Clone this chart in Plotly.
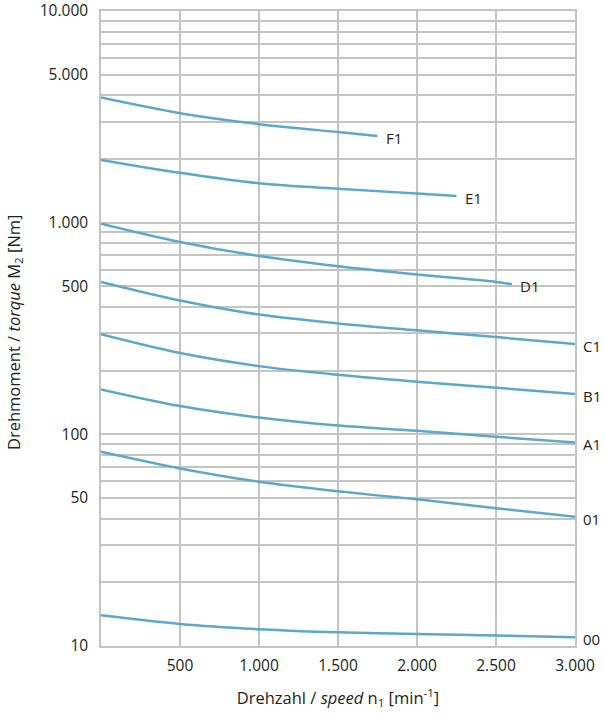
import math
import plotly.graph_objects as go

# Data
speed_F1 = [0, 500, 1000, 1500, 1750]
torque_F1 = [3900, 3290, 2920, 2680, 2570]

speed_E1 = [0, 500, 1000, 1500, 2000, 2250]
torque_E1 = [1980, 1720, 1535, 1445, 1375, 1337]

speed_D1 = [0, 500, 1000, 1500, 2000, 2500, 2600]
torque_D1 = [990, 811, 696, 623, 569, 525, 512]

speed_full = [0, 500, 1000, 1500, 2000, 2500, 3000]
torque_C1 = [525, 429, 368, 334, 310, 288, 267]
torque_B1 = [297, 242, 210, 191, 177, 166, 155]
torque_A1 = [163, 136, 120, 110, 104, 97.3, 91.6]
torque_01 = [82.7, 69, 59.7, 53.8, 49.3, 44.8, 40.8]
torque_00 = [13.96, 12.7, 12.0, 11.6, 11.4, 11.2, 11.0]

series = [
    ("F1", speed_F1, torque_F1),
    ("E1", speed_E1, torque_E1),
    ("D1", speed_D1, torque_D1),
    ("C1", speed_full, torque_C1),
    ("B1", speed_full, torque_B1),
    ("A1", speed_full, torque_A1),
    ("01", speed_full, torque_01),
    ("00", speed_full, torque_00),
]

x_ticks = [500, 1000, 1500, 2000, 2500, 3000]
x_labels = ["500", "1.000", "1.500", "2.000", "2.500", "3.000"]

y_grid = [m * 10 ** e for e in (1, 2, 3) for m in range(1, 10)] + [10000]
y_label_map = {10: "10", 50: "50", 100: "100", 500: "500",
               1000: "1.000", 5000: "5.000", 10000: "10.000"}
y_labels = [y_label_map.get(v, "") for v in y_grid]

x_title = "Drehzahl / <i>speed</i> n<sub>1</sub> [min<sup>-1</sup>]"
y_title = "Drehmoment / <i>torque</i> M<sub>2</sub> [Nm]"

line_color = "#5ba8c8"
grid_color = "#c4c4c4"
text_color = "#231f20"
font_family = "Open Sans, Noto Sans, sans-serif"
tick_fs = 15.5
title_fs = 16.5
label_fs = 15

fig = go.Figure()
for name, xs, ys in series:
    fig.add_trace(go.Scatter(
        x=xs, y=ys, mode="lines", name=name,
        line=dict(color=line_color, width=2.5, shape="spline", smoothing=0.9),
        showlegend=False, hoverinfo="skip",
    ))
    fig.add_annotation(
        x=xs[-1], y=math.log10(ys[-1]), xref="x", yref="y",
        text=name, showarrow=False, xanchor="left", yanchor="middle",
        xshift=6, yshift=-2,
        font=dict(family=font_family, size=label_fs, color=text_color),
    )

# y-axis title placed as rotated annotation for exact position
fig.add_annotation(
    x=-0.1835, y=0.4945, xref="paper", yref="paper",
    text=y_title, textangle=-90, showarrow=False,
    xanchor="center", yanchor="middle",
    font=dict(family=font_family, size=title_fs, color=text_color),
)

fig.update_layout(
    width=605, height=718,
    margin=dict(l=101, r=30, t=11, b=72),
    paper_bgcolor="white", plot_bgcolor="white",
    font=dict(family=font_family, size=tick_fs, color=text_color),
)

fig.update_xaxes(
    range=[0, 3000], tickvals=x_ticks, ticktext=x_labels,
    showgrid=True, gridcolor=grid_color, gridwidth=1.5,
    showline=True, linecolor=grid_color, linewidth=1.5, mirror=True,
    zeroline=False, ticks="outside", ticklen=5, tickcolor="rgba(0,0,0,0)",
    automargin=False, ticklabeloverflow="allow",
    tickfont=dict(family=font_family, size=tick_fs, color=text_color),
    title=dict(text=x_title,
               font=dict(family=font_family, size=title_fs, color=text_color),
               standoff=17),
)

fig.update_yaxes(
    type="log", range=[1, 4], tickvals=y_grid, ticktext=y_labels,
    showgrid=True, gridcolor=grid_color, gridwidth=1.5,
    showline=True, linecolor=grid_color, linewidth=1.5, mirror=True,
    zeroline=False, ticks="outside", ticklen=8, tickcolor="rgba(0,0,0,0)",
    automargin=False, ticklabeloverflow="allow",
    tickfont=dict(family=font_family, size=tick_fs, color=text_color),
)

fig.write_html(
    "out.html",
    config={"displayModeBar": False},
    post_script="document.body.style.margin='0px';document.documentElement.style.margin='0px';",
)
